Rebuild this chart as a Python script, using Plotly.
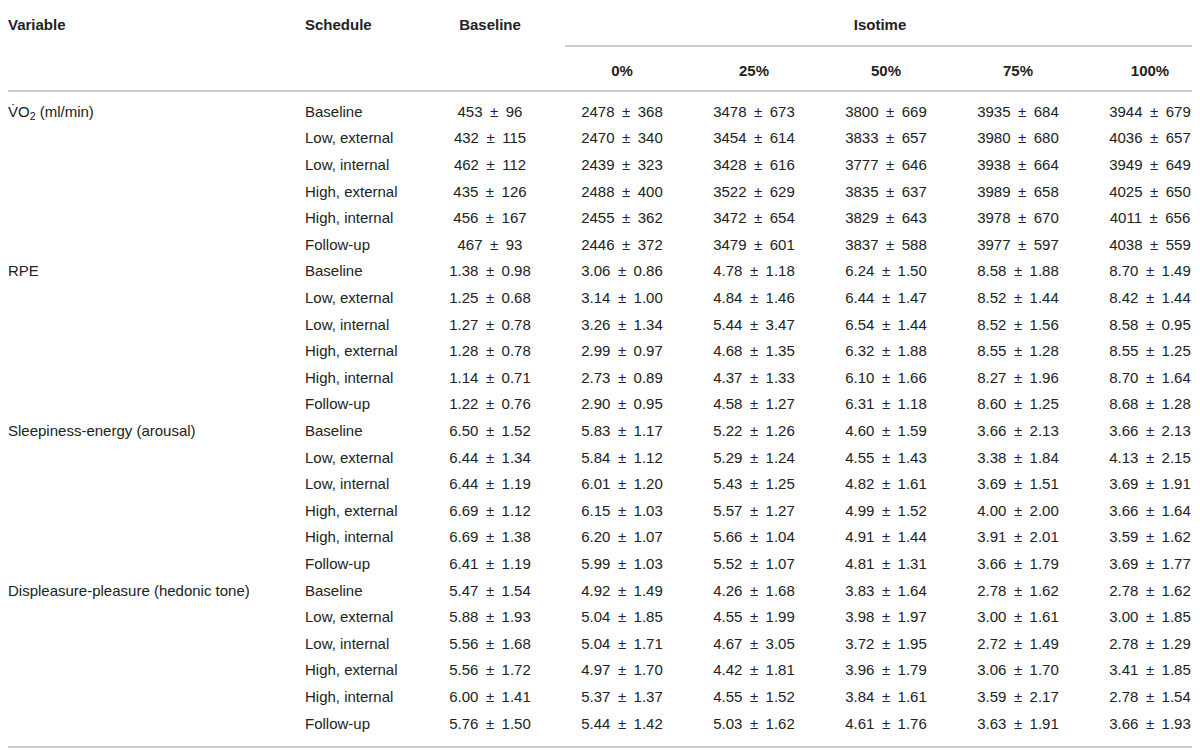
import plotly.graph_objects as go

# table data
variables = ["V\u0307O<sub>2</sub> (ml/min)", "RPE", "Sleepiness-energy (arousal)",
             "Displeasure-pleasure (hedonic tone)"]
schedules = ["Baseline", "Low, external", "Low, internal", "High, external",
             "High, internal", "Follow-up"]
time_points = ["Baseline", "0%", "25%", "50%", "75%", "100%"]

vo2_mean = [[453, 2478, 3478, 3800, 3935, 3944],
            [432, 2470, 3454, 3833, 3980, 4036],
            [462, 2439, 3428, 3777, 3938, 3949],
            [435, 2488, 3522, 3835, 3989, 4025],
            [456, 2455, 3472, 3829, 3978, 4011],
            [467, 2446, 3479, 3837, 3977, 4038]]
vo2_sd = [[96, 368, 673, 669, 684, 679],
          [115, 340, 614, 657, 680, 657],
          [112, 323, 616, 646, 664, 649],
          [126, 400, 629, 637, 658, 650],
          [167, 362, 654, 643, 670, 656],
          [93, 372, 601, 588, 597, 559]]

rpe_mean = [[1.38, 3.06, 4.78, 6.24, 8.58, 8.70],
            [1.25, 3.14, 4.84, 6.44, 8.52, 8.42],
            [1.27, 3.26, 5.44, 6.54, 8.52, 8.58],
            [1.28, 2.99, 4.68, 6.32, 8.55, 8.55],
            [1.14, 2.73, 4.37, 6.10, 8.27, 8.70],
            [1.22, 2.90, 4.58, 6.31, 8.60, 8.68]]
rpe_sd = [[0.98, 0.86, 1.18, 1.50, 1.88, 1.49],
          [0.68, 1.00, 1.46, 1.47, 1.44, 1.44],
          [0.78, 1.34, 3.47, 1.44, 1.56, 0.95],
          [0.78, 0.97, 1.35, 1.88, 1.28, 1.25],
          [0.71, 0.89, 1.33, 1.66, 1.96, 1.64],
          [0.76, 0.95, 1.27, 1.18, 1.25, 1.28]]

arousal_mean = [[6.50, 5.83, 5.22, 4.60, 3.66, 3.66],
                [6.44, 5.84, 5.29, 4.55, 3.38, 4.13],
                [6.44, 6.01, 5.43, 4.82, 3.69, 3.69],
                [6.69, 6.15, 5.57, 4.99, 4.00, 3.66],
                [6.69, 6.20, 5.66, 4.91, 3.91, 3.59],
                [6.41, 5.99, 5.52, 4.81, 3.66, 3.69]]
arousal_sd = [[1.52, 1.17, 1.26, 1.59, 2.13, 2.13],
              [1.34, 1.12, 1.24, 1.43, 1.84, 2.15],
              [1.19, 1.20, 1.25, 1.61, 1.51, 1.91],
              [1.12, 1.03, 1.27, 1.52, 2.00, 1.64],
              [1.38, 1.07, 1.04, 1.44, 2.01, 1.62],
              [1.19, 1.03, 1.07, 1.31, 1.79, 1.77]]

hedonic_mean = [[5.47, 4.92, 4.26, 3.83, 2.78, 2.78],
                [5.88, 5.04, 4.55, 3.98, 3.00, 3.00],
                [5.56, 5.04, 4.67, 3.72, 2.72, 2.78],
                [5.56, 4.97, 4.42, 3.96, 3.06, 3.41],
                [6.00, 5.37, 4.55, 3.84, 3.59, 2.78],
                [5.76, 5.44, 5.03, 4.61, 3.63, 3.66]]
hedonic_sd = [[1.54, 1.49, 1.68, 1.64, 1.62, 1.62],
              [1.93, 1.85, 1.99, 1.97, 1.61, 1.85],
              [1.68, 1.71, 3.05, 1.95, 1.49, 1.29],
              [1.72, 1.70, 1.81, 1.79, 1.70, 1.85],
              [1.41, 1.37, 1.52, 1.61, 2.17, 1.54],
              [1.50, 1.42, 1.62, 1.76, 1.91, 1.93]]

blocks = [(vo2_mean, vo2_sd, "{:.0f}"), (rpe_mean, rpe_sd, "{:.2f}"),
          (arousal_mean, arousal_sd, "{:.2f}"), (hedonic_mean, hedonic_sd, "{:.2f}")]

# layout in page pixels (the page body has an 8px margin)
W, H = 1200, 752
OFF = 8
row_y0, row_step = 113, 26.6
col_c = [490, 622, 754, 886, 1018, 1150]
FONT = "Liberation Sans, Arial, sans-serif"
TXT = "#222222"
LINE = "#bdbdbd"
PM = "\u2002\u00b1\u2002"

fig = go.Figure()

cells = {i: ([], [], []) for i in range(len(col_c))}
var_x, var_y, var_t = [], [], []
sch_x, sch_y, sch_t = [], [], []
r = 0
for v, (means, sds, fmt) in zip(variables, blocks):
    var_x.append(8); var_y.append(row_y0 + r * row_step); var_t.append(v)
    for s, mrow, srow in zip(schedules, means, sds):
        y = row_y0 + r * row_step
        sch_x.append(305); sch_y.append(y); sch_t.append(s)
        for c, (m, sd) in enumerate(zip(mrow, srow)):
            cells[c][0].append(col_c[c])
            cells[c][1].append(y)
            cells[c][2].append(fmt.format(m) + PM + fmt.format(sd))
        r += 1

def add_text(xs, ys, ts, pos="middle right", bold=False, size=15):
    fig.add_trace(go.Scatter(
        x=xs, y=ys, text=[("<b>%s</b>" % t) if bold else t for t in ts],
        mode="text", textposition=pos, hoverinfo="skip", showlegend=False,
        textfont=dict(family=FONT, size=size, color=TXT)))

add_text(var_x, var_y, var_t)
add_text(sch_x, sch_y, sch_t)
for c in cells:
    add_text(*cells[c], pos="middle center")

# header
add_text([8, 305], [26, 26], ["Variable", "Schedule"], bold=True)
add_text([col_c[0]], [26], [time_points[0]], pos="middle center", bold=True)
add_text([880], [26], ["Isotime"], pos="middle center", bold=True)
add_text(col_c[1:], [72] * 5, time_points[1:], pos="middle center", bold=True)

for y0, x0, x1 in [(5, 0, 1193), (46, 565, 1193), (91, 0, 1193), (747, 0, 1193)]:
    fig.add_shape(type="line", x0=x0, x1=x1, y0=y0, y1=y0,
                  line=dict(color=LINE, width=1.6))

fig.update_xaxes(range=[OFF, W + OFF], visible=False, fixedrange=True)
fig.update_yaxes(range=[H + OFF, OFF], visible=False, fixedrange=True)
fig.update_layout(width=W, height=H, margin=dict(l=0, r=0, t=0, b=0),
                  plot_bgcolor="white", paper_bgcolor="white")

fig.write_html("out.html")
